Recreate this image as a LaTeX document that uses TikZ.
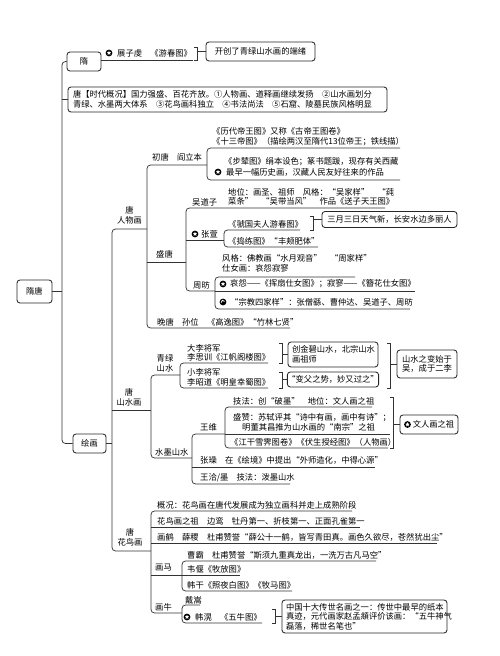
\documentclass[tikz,border=0pt]{standalone}
\usepackage{fontspec}
\setmainfont{Noto Sans CJK SC}
\usetikzlibrary{shapes.geometric}
\tikzset{
  starmk/.pic={\fill[black] (0,0) circle[radius=3.4pt];
    \node[star,star points=5,star point ratio=2.3,fill=white,inner sep=0pt,minimum size=4.6pt] at (0,0) {};},
  loopmk/.pic={\fill[black] (0,0) circle[radius=3.4pt];
    \draw[white,line width=0.8pt] (-1.8pt,-0.6pt) arc[start angle=200,end angle=20,radius=1.8pt];},
}
\begin{document}
\begin{tikzpicture}[x=1pt,y=-1pt,
  tx/.style={anchor=west,inner sep=0pt,font=\fontsize{8.3}{9.5}\selectfont,text=black,align=left},
  lbl/.style={inner sep=0pt,font=\fontsize{8.3}{10}\selectfont,text=black,align=center},
  ln/.style={draw=black!80,line width=0.75pt,rounded corners=3.5pt},
  brk/.style={draw=black!80,line width=0.75pt},
  bx/.style={draw=black!85,line width=0.85pt,rounded corners=3pt,inner sep=0pt,font=\fontsize{8.3}{9.5}\selectfont,text=black,align=center},
  bxl/.style={bx,align=left,inner xsep=4pt},
]
\useasboundingbox (0,0) rectangle (500,656);
\fill[white] (0,0) rectangle (500,656);

% ---------- boxes ----------
\node[bx,minimum width=34pt,minimum height=19pt] (sui) at (84,61.5) {隋};
\node[bx,minimum width=109pt,minimum height=19pt] (kc) at (260.5,51.5) {开创了青绿山水画的端绪};
\node[bxl,text width=309pt,minimum height=25pt,inner xsep=5pt] (tb) at (227.5,99.5) {唐【时代概况】国力强盛、百花齐放。①人物画、道释画继续发扬　②山水画划分\\青绿、水墨两大体系　③花鸟画科独立　④书法尚法　⑤石窟、陵墓民族风格明显};
\node[bx,minimum width=35pt,minimum height=23pt] (st) at (34.5,291.5) {隋唐};
\node[bx,minimum width=33pt,minimum height=19pt] (hh) at (89.5,443.5) {绘画};
\node[bx,minimum width=135pt,minimum height=16pt] (sy) at (389.5,219.5) {三月三日天气新，长安水边多丽人};
\node[bxl,text width=82pt,minimum height=25pt] (dl) at (333,354.5) {创金碧山水，北宗山水\\画祖师};
\node[bx,minimum width=90pt,minimum height=15pt] (xl) at (333,379.5) {“变父之势，妙又过之”};
\node[bx,minimum width=60pt,minimum height=28pt] (ss) at (427,364) {山水之变始于\\吴，成于二李};
\node[bx,minimum width=58pt,minimum height=19pt] (wr) at (429,424.5) {\hspace{9pt}文人画之祖};
\pic at (407.5,424.5) {starmk};
\node[bxl,text width=157pt,minimum height=33pt] (wn) at (364.5,616.5) {中国十大传世名画之一：传世中最早的纸本\\真迹，元代画家赵孟頫评价该画：“五牛神气\\磊落，稀世名笔也”};

% ---------- spines ----------
\draw[ln] (sui.west) -- (62,61.5) -- (62,443.5) -- (hh.west);
\draw[ln] (62,99.5) -- (tb.west);
\draw[ln] (st.east) -- (62,291.5);
\draw[ln] (101,60) -- (193,60);
\draw[brk] (194,47) -- (197,47) -- (197,60) -- (194,60);
\draw[brk] (197,51.5) -- (kc.west);

\draw[ln] (hh.east) -- (112,443.5);
\draw[ln] (147,229) -- (112,229) -- (112,551) -- (151,551);
\draw[ln] (112,410) -- (151,410);

% 人物画
\draw[ln] (207,165) -- (147,165) -- (147,328) -- (290,328);
\draw[ln] (147,262) -- (186,262);
\draw[ln] (400,148) -- (207,148) -- (207,180) -- (400,180);
\draw[ln] (385,208) -- (186,208) -- (186,291) -- (215,291);
\draw[ln] (186,240) -- (224,240);
\draw[ln] (300,230) -- (224,230) -- (224,247) -- (318,247);
\draw[brk] (310,216) -- (313,216) -- (313,230) -- (310,230);
\draw[brk] (313,219.5) -- (sy.west);
\draw[ln] (355,277) -- (215,277) -- (215,309) -- (410,309);
\draw[ln] (215,291) -- (415,291);

% 山水画
\draw[ln] (180,375) -- (151,375) -- (151,458) -- (192,458);
\draw[ln] (268,363) -- (180,363) -- (180,388) -- (268,388);
\draw[brk] (279,343) -- (282,343) -- (282,363) -- (279,363);
\draw[brk] (282,354.5) -- (dl.west);
\draw[brk] (279,372) -- (282,372) -- (282,388) -- (279,388);
\draw[brk] (282,379.5) -- (xl.west);
\draw[brk] (387,343) -- (390,343) -- (390,388) -- (387,388);
\draw[brk] (390,364) -- (ss.west);
\draw[ln] (225,434) -- (192,434) -- (192,484) -- (290,484);
\draw[ln] (192,467) -- (375,467);
\draw[ln] (372,407) -- (225,407) -- (225,448) -- (388,448);
\draw[ln] (225,434) -- (390,434);
\draw[brk] (390,397) -- (393,397) -- (393,448) -- (390,448);
\draw[brk] (393,424.5) -- (wr.west);

% 花鸟画
\draw[ln] (352,511) -- (151,511) -- (151,613) -- (182,613);
\draw[ln] (151,527) -- (360,527);
\draw[ln] (151,543) -- (437,543);
\draw[ln] (151,575) -- (182,575);
\draw[ln] (376,561) -- (182,561) -- (182,591) -- (292,591);
\draw[ln] (182,575) -- (240,575);
\draw[ln] (200,605) -- (182,605) -- (182,623) -- (262,623);
\draw[brk] (272,609) -- (275,609) -- (275,623) -- (272,623);
\draw[brk] (275,616.5) -- (wn.west);

% ---------- texts ----------
\pic at (109,53) {starmk};
\node[tx] (zzq) at (117,53) {展子虔　《游春图》};

\node[lbl] (rwh) at (129.5,215) {唐\\人物画};
\node[lbl] (swh) at (129,397) {唐\\山水画};
\node[lbl] (hnh) at (130,537) {唐\\花鸟画};
\node[lbl] (qlss) at (165,363) {青绿\\山水};

\node[tx] (ct) at (152,157) {初唐　阎立本};
\node[tx] (ld) at (212,136.5) {《历代帝王图》又称《古帝王图卷》\\《十三帝图》（描绘两汉至隋代13位帝王；铁线描）};
\node[tx] (bn1) at (224,162) {《步辇图》绢本设色；篆书题跋，现存有关西藏};
\pic at (218,172) {starmk};
\node[tx] (bn2) at (226,172) {最早一幅历史画，汉藏人民友好往来的作品};

\node[tx] (sht) at (156,254) {盛唐};
\node[tx] (wdz) at (192,202) {吴道子};
\node[tx] (wdzc) at (228,197) {地位：画圣、祖师　风格：“吴家样”　“莼\\菜条”　“吴带当风”　作品《送子天王图》};
\pic at (195,234) {starmk};
\node[tx] (zx) at (201,234) {张萱};
\node[tx] (gg) at (228,224) {《虢国夫人游春图》};
\node[tx] (dl2) at (228,241) {《捣练图》“丰颊肥体”};
\node[tx] (zf) at (193,285) {周昉};
\node[tx] (zf1) at (222,263.5) {风格：佛教画“水月观音”　“周家样”\\仕女画：哀怨寂寥};
\pic at (223,284) {starmk};
\node[tx] (zf2) at (230,284) {哀怨——《挥扇仕女图》；寂寥——《簪花仕女图》};
\pic at (223,302) {loopmk};
\node[tx] (zf3) at (230,302) {“宗教四家样”：张僧繇、曹仲达、吴道子、周昉};
\node[tx] (wt) at (157,322) {晚唐　孙位　《高逸图》“竹林七贤”};

\node[tx] (dlj) at (187,353) {大李将军\\李思训《江帆阁楼图》};
\node[tx] (xlj) at (187,377.5) {小李将军\\李昭道《明皇幸蜀图》};
\node[tx] (smss) at (155,452) {水墨山水};
\node[tx] (ww) at (200,427) {王维};
\node[tx] (ww1) at (233,401) {技法：创“破墨”　地位：文人画之祖};
\node[tx] (ww2) at (233,418) {盛赞：苏轼评其“诗中有画，画中有诗”；};
\node[tx] (ww3) at (242,427) {明董其昌推为山水画的“南宗”之祖};
\node[tx] (ww4) at (230,442) {《江干雪霁图卷》《伏生授经图》（人物画）};
\node[tx] (zz) at (200,460) {张璪　在《绘境》中提出“外师造化，中得心源”};
\node[tx] (wq) at (200,478) {王洽/墨　技法：泼墨山水};

\node[tx] (gk) at (157,505) {概况：花鸟画在唐代发展成为独立画科并走上成熟阶段};
\node[tx] (hnz) at (157,521) {花鸟画之祖　边鸾　牡丹第一、折枝第一、正面孔雀第一};
\node[tx] (hh2) at (157,537) {画鹤　薛稷　杜甫赞誉“薛公十一鹤，皆写青田真。画色久欲尽，苍然犹出尘”};
\node[tx] (cb) at (187,555) {曹霸　杜甫赞誉“斯须九重真龙出，一洗万古凡马空”};
\node[tx] (hm) at (155,568) {画马};
\node[tx] (wy) at (187,569) {韦偃《牧放图》};
\node[tx] (hg) at (187,585) {韩干《照夜白图》《牧马图》};
\node[tx] (hn) at (155,607) {画牛};
\node[tx] (ds) at (185,600) {戴嵩};
\pic at (187,617) {starmk};
\node[tx] (hhu) at (195,617) {韩滉　《五牛图》};
\end{tikzpicture}
\end{document}
